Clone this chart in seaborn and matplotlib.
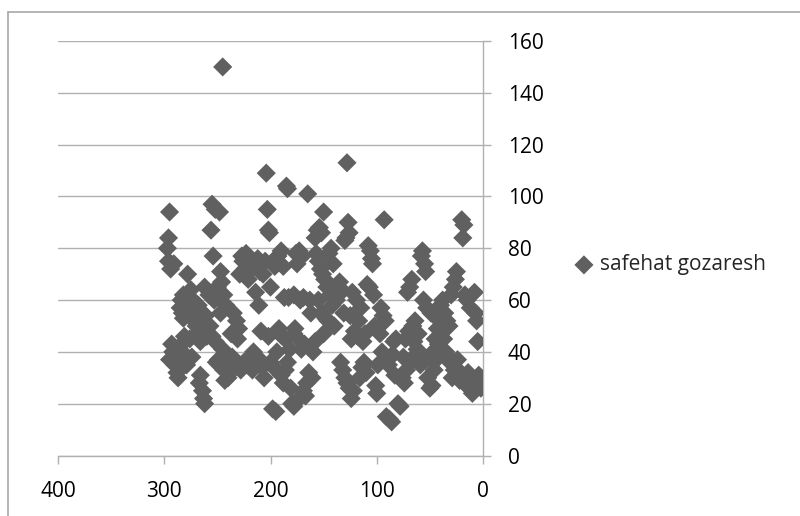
import matplotlib
matplotlib.use("Agg")
import matplotlib.pyplot as plt
import seaborn as sns
import pandas as pd

# safehat gozaresh: x (index) and y values
x_vals = [
    295, 296, 297, 296, 294, 291, 293, 295, 292, 290, 288, 287, 289, 286,
    284, 283, 282, 285, 281, 283, 280, 282,
    278, 275, 277, 273, 272, 270, 276, 274, 279, 271, 268, 269, 267, 266,
    264, 263, 262, 265, 263, 261, 260, 262, 266,
    255, 252, 248, 256, 254, 250, 258, 253, 247, 246, 244, 245, 257, 255,
    252, 249, 251, 244, 241, 240, 243, 247, 242, 245,
    235, 232, 230, 237, 233, 228, 225, 222, 238, 236, 226, 224, 229, 227,
    221, 223, 220, 231,
    215, 212, 210, 218, 214, 211, 216, 213, 210, 208, 206, 219, 217, 204,
    203, 202, 201, 205, 207, 200, 202, 209, 198, 195, 200, 197,
    193, 190, 188, 196, 192, 189, 186, 185, 184, 187, 183, 182, 190, 188,
    180, 178, 181, 184, 194, 186,
    176, 173, 170, 175, 172, 169, 178, 177, 174, 171, 168, 166, 167, 169,
    173, 165, 163, 162, 164, 161, 160, 178,
    158, 156, 154, 152, 157, 155, 150, 153, 151, 149, 147, 155, 152, 148,
    146, 158, 150, 145, 143, 141, 144, 142, 140,
    128, 127, 126, 129, 130, 135, 133, 131, 138, 132, 130, 128, 126, 124,
    122, 134, 136, 124, 121, 125, 123,
    119, 117, 115, 118, 114, 112, 110, 108, 106, 105, 104, 107, 103, 109,
    116, 101, 100, 111, 102, 113,
    93, 96, 94, 92, 97, 95, 90, 88, 86, 91, 89, 87, 85, 84, 82, 80, 78, 83, 99,
    76, 74, 72, 71, 69, 67, 73, 70, 65, 63, 62, 68, 66, 64, 61, 75,
    58, 57, 55, 54, 56, 53, 59, 52, 50, 48, 51, 47, 45, 43, 41, 46, 44, 42,
    49, 40,
    38, 36, 34, 32, 37, 35, 30, 28, 26, 25, 33, 31, 29, 27, 24, 22, 21,
    20, 19, 18, 17, 15, 12, 14, 16, 13, 11, 9, 8, 7, 6, 5, 4, 3, 2, 10,
]
y_vals = [
    94, 84, 80, 75, 72, 74, 43, 37, 40, 35, 32, 30, 38, 42,
    60, 55, 53, 57, 46, 40, 37, 62,
    70, 64, 57, 60, 52, 50, 45, 38, 35, 55, 58, 47, 28, 31,
    25, 22, 20, 48, 52, 54, 46, 65, 44,
    97, 95, 94, 87, 77, 65, 62, 60, 71, 67, 62, 150, 50, 46,
    44, 37, 36, 33, 35, 30, 29, 55, 58, 41,
    55, 52, 49, 47, 34, 33, 36, 35, 36, 38, 75, 72, 70, 77,
    68, 78, 76, 45,
    74, 76, 71, 72, 63, 58, 40, 38, 37, 34, 30, 38, 33, 109,
    95, 87, 86, 75, 70, 65, 46, 48, 18, 17, 36, 34,
    77, 79, 73, 73, 49, 46, 45, 104, 103, 61, 61, 41, 31, 28,
    20, 19, 26, 36, 40, 33,
    78, 79, 77, 74, 60, 61, 47, 49, 45, 41, 43, 28, 23, 25,
    22, 101, 60, 55, 32, 30, 40, 62,
    84, 87, 88, 86, 78, 75, 94, 72, 70, 68, 65, 60, 55, 53,
    52, 44, 47, 78, 80, 74, 62, 58, 50,
    113, 90, 86, 84, 83, 67, 64, 55, 60, 33, 30, 28, 26, 22,
    25, 36, 62, 45, 48, 54, 63,
    60, 52, 57, 46, 34, 36, 32, 81, 79, 76, 74, 65, 62, 66,
    30, 27, 24, 47, 50, 44,
    91, 57, 54, 52, 47, 40, 37, 14, 13, 15, 35, 38, 39, 44, 45, 20, 19, 31, 35,
    30, 28, 33, 63, 65, 68, 45, 48, 44, 39, 41, 36, 50, 52, 47, 38,
    77, 79, 74, 71, 60, 57, 35, 30, 26, 27, 38, 40, 45, 49, 52, 33, 37, 43,
    55, 58,
    60, 55, 52, 50, 45, 40, 62, 65, 68, 71, 38, 36, 30, 33, 37, 29, 32,
    91, 84, 89, 62, 60, 57, 32, 28, 26, 30, 29, 63, 55, 52, 44, 31, 28, 26, 24,
]
series_name = "safehat gozaresh"
y_ticks = [0, 20, 40, 60, 80, 100, 120, 140, 160]
x_ticks = [0, 100, 200, 300, 400]

df = pd.DataFrame({"x": x_vals, "y": y_vals})

sns.set_style("white")
plt.rcParams["font.family"] = ["Open Sans", "DejaVu Sans"]

fig = plt.figure(figsize=(8, 5.16), dpi=100)
ax = fig.add_axes([0.0725, 0.1172, 0.53125, 0.8033])

grid_c = "#b0b0b0"
sns.scatterplot(data=df, x="x", y="y", ax=ax, marker="D", s=95,
                color="#606060", edgecolor="none", linewidth=0,
                label=series_name, zorder=3)

ax.set_xlim(400, 0)
ax.set_ylim(0, 160)
ax.set_xticks(x_ticks)
ax.set_yticks(y_ticks)
ax.set_xlabel("")
ax.set_ylabel("")
ax.yaxis.tick_right()
ax.yaxis.grid(True, color=grid_c, linewidth=1.0, zorder=0)
ax.xaxis.grid(False)
ax.set_axisbelow(True)

for side in ["left", "top"]:
    ax.spines[side].set_visible(False)
for side in ["right", "bottom"]:
    ax.spines[side].set_color(grid_c)
    ax.spines[side].set_linewidth(1.0)

ax.tick_params(axis="both", which="major", direction="out", length=6,
               width=1.0, color=grid_c, labelsize=15, labelcolor="black",
               pad=12)
ax.tick_params(axis="y", left=False, right=True)
ax.tick_params(axis="x", bottom=True, top=False)

ax.legend(loc="center left", bbox_to_anchor=(1.213, 0.46), frameon=False,
          fontsize=15, handlelength=1.0, handletextpad=0.25, borderpad=0,
          borderaxespad=0, markerscale=1.0)

# chart area border (only left and top visible in the crop)
fig.add_artist(plt.Line2D([8 / 800, 8 / 800], [0, 1 - 12 / 516],
                          transform=fig.transFigure, color="#a8a8a8", lw=1.2))
fig.add_artist(plt.Line2D([8 / 800, 1], [1 - 12 / 516, 1 - 12 / 516],
                          transform=fig.transFigure, color="#a8a8a8", lw=1.2))

fig.savefig("out.png", dpi=100)
plt.close(fig)
